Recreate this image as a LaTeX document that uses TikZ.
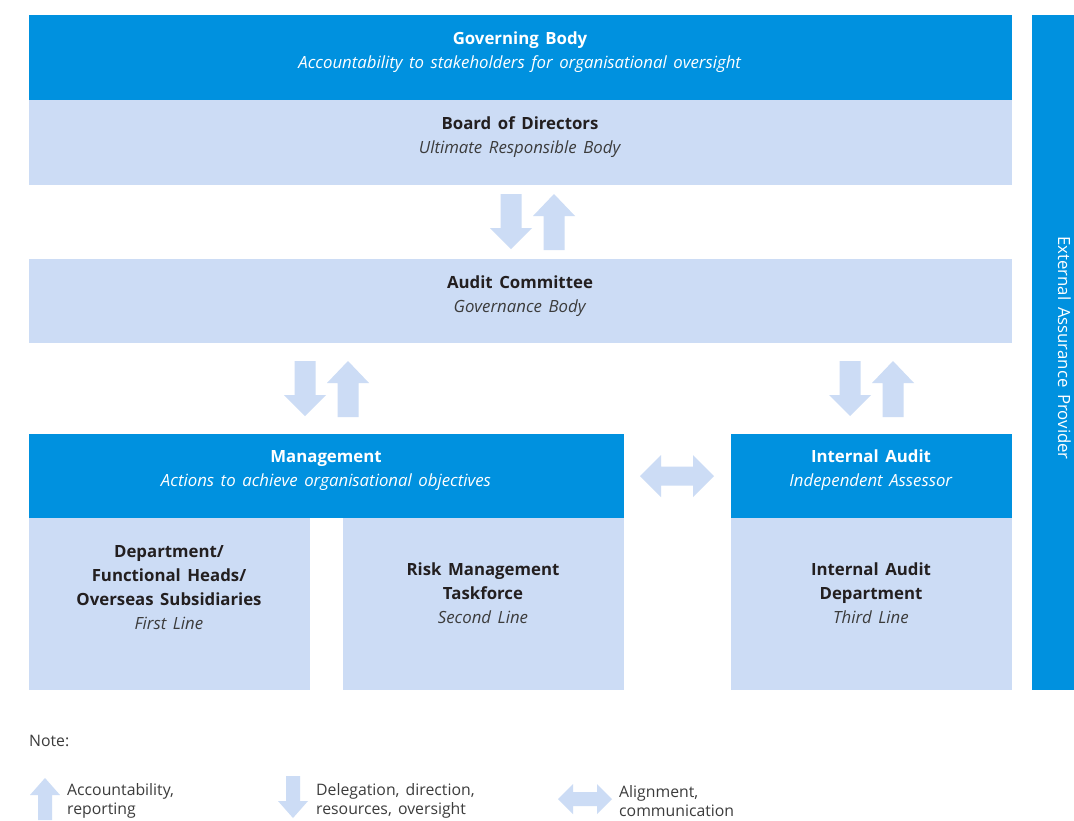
\documentclass[tikz,border=0pt]{standalone}
\usepackage{fontspec}
\setmainfont[WordSpace=1.5]{Open Sans}
\definecolor{dblue}{RGB}{0,145,223}
\definecolor{lblue}{RGB}{204,220,245}
\definecolor{dtext}{RGB}{35,31,32}
\definecolor{itext}{RGB}{60,60,60}
\begin{document}
\begin{tikzpicture}[x=1pt,y=-1pt,
  bluebox/.style={fill=dblue,draw=none},
  lightbox/.style={fill=lblue,draw=none},
  wtxt/.style={text=white,align=center,font=\fontsize{16.8}{24}\selectfont,inner sep=0pt},
  dtxt/.style={text=dtext,align=center,font=\fontsize{16.8}{24}\selectfont,inner sep=0pt},
  legtxt/.style={text=itext,align=left,font=\fontsize{15.8}{19}\selectfont,inner sep=0pt,anchor=west},
  arrowfill/.style={fill=lblue,draw=none},
  uparr/.pic={\fill[arrowfill] (-10.5,0) -- (-10.5,-34) -- (-21,-34) -- (0,-56) -- (21,-34) -- (10.5,-34) -- (10.5,0) -- cycle;},
  downarr/.pic={\fill[arrowfill] (-10.5,0) -- (-10.5,34) -- (-21,34) -- (0,55) -- (21,34) -- (10.5,34) -- (10.5,0) -- cycle;},
  dblarr/.pic={\fill[arrowfill] (-37,0) -- (-16,-21) -- (-16,-9.5) -- (16,-9.5) -- (16,-21) -- (37,0) -- (16,21) -- (16,9.5) -- (-16,9.5) -- (-16,21) -- cycle;},
  uparrs/.pic={\fill[arrowfill] (-7,0) -- (-7,-25) -- (-15,-25) -- (0,-42) -- (15,-25) -- (7,-25) -- (7,0) -- cycle;},
  downarrs/.pic={\fill[arrowfill] (-7,0) -- (-7,25) -- (-15,25) -- (0,42) -- (15,25) -- (7,25) -- (7,0) -- cycle;},
  dblarrs/.pic={\fill[arrowfill] (-27,0) -- (-12,-15) -- (-12,-7) -- (12,-7) -- (12,-15) -- (27,0) -- (12,15) -- (12,7) -- (-12,7) -- (-12,15) -- cycle;}
]
\clip (0,0) rectangle (1074,820);
\fill[white] (0,0) rectangle (1074,820);

% boxes
\fill[bluebox] (29,15) rectangle (1012,100);
\fill[lightbox] (29,100) rectangle (1012,185);
\fill[lightbox] (29,259) rectangle (1012,343);
\fill[bluebox] (29,434) rectangle (624,518);
\fill[lightbox] (29,518) rectangle (310,690);
\fill[lightbox] (343,518) rectangle (624,690);
\fill[bluebox] (731,434) rectangle (1012,518);
\fill[lightbox] (731,518) rectangle (1012,690);
\fill[bluebox] (1032,15) rectangle (1074,690);

% texts
\node[wtxt] (gov) at (520,52) {\textbf{Governing Body}\\\textit{Accountability to stakeholders for organisational oversight}};
\node[dtxt] (bod) at (520,137) {\textbf{Board of Directors}\\{\color{itext}\textit{Ultimate Responsible Body}}};
\node[dtxt] (ac) at (520,296) {\textbf{Audit Committee}\\{\color{itext}\textit{Governance Body}}};
\node[wtxt] (mgmt) at (326,471) {\textbf{Management}\\\textit{Actions to achieve organisational objectives}};
\node[wtxt] (ia) at (871,470) {\textbf{Internal Audit}\\\textit{Independent Assessor}};
\node[dtxt] (dept) at (169,588) {\textbf{Department/}\\\textbf{Functional Heads/}\\\textbf{Overseas Subsidiaries}\\{\color{itext}\textit{First Line}}};
\node[dtxt] (risk) at (483,593) {\textbf{Risk Management}\\\textbf{Taskforce}\\{\color{itext}\textit{Second Line}}};
\node[dtxt] (iad) at (871,593) {\textbf{Internal Audit}\\\textbf{Department}\\{\color{itext}\textit{Third Line}}};
\node[wtxt,rotate=-90,anchor=base west] (ext) at (1058,236) {External Assurance Provider};

% arrows
\pic at (511,194) {downarr};
\pic at (554,250) {uparr};
\pic at (305,361) {downarr};
\pic at (348,417) {uparr};
\pic at (850,361) {downarr};
\pic at (893,417) {uparr};
\pic at (677,476) {dblarr};

% legend
\node[legtxt] (note) at (29,741) {Note:};
\pic at (45,820) {uparrs};
\node[legtxt] (l1) at (67,801) {Accountability,\\reporting};
\pic at (293,776) {downarrs};
\node[legtxt] (l2) at (316,801) {Delegation, direction,\\resources, oversight};
\pic at (585,799) {dblarrs};
\node[legtxt] (l3) at (619,801) {Alignment,\\communication};
\end{tikzpicture}
\end{document}
